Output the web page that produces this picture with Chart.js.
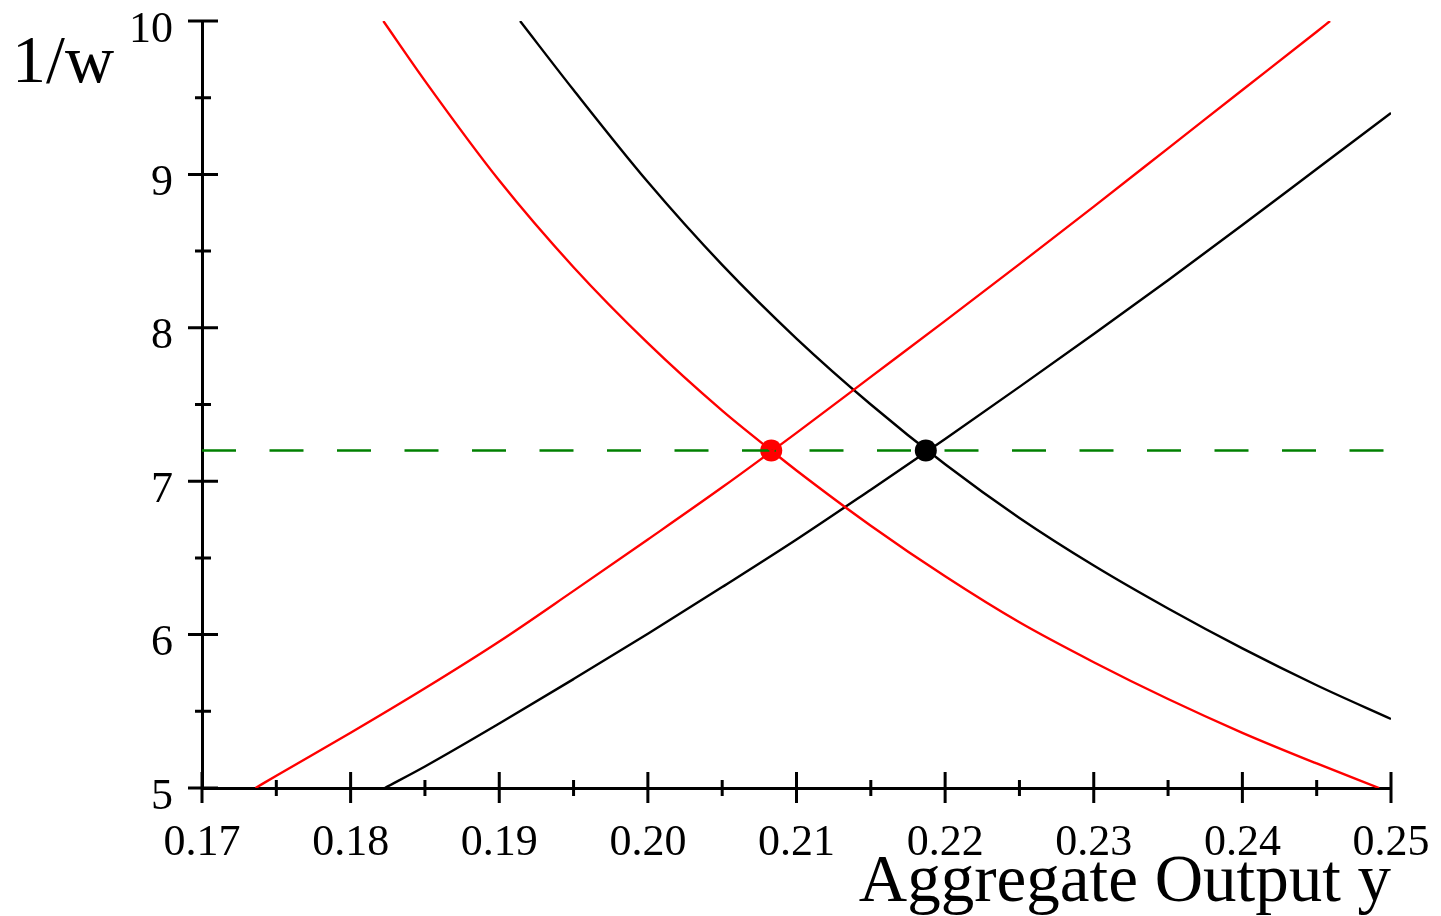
<!DOCTYPE html>
<html>
<head>
<meta charset="utf-8">
<script src="https://cdn.jsdelivr.net/npm/chart.js@4.4.1/dist/chart.umd.min.js"></script>
<style>
  html, body { margin: 0; padding: 0; background: #fff; }
  #wrap { width: 1441px; height: 916px; }
</style>
</head>
<body>
<div id="wrap"><canvas id="chart" width="1441" height="916"></canvas></div>
<script>
// axes
const xTicks = [0.17, 0.18, 0.19, 0.20, 0.21, 0.22, 0.23, 0.24, 0.25];
const xMinorTicks = [0.175, 0.185, 0.195, 0.205, 0.215, 0.225, 0.235, 0.245];
const yTicks = [5, 6, 7, 8, 9, 10];
const yMinorTicks = [5.5, 6.5, 7.5, 8.5, 9.5];
const xTitle = 'Aggregate Output y';
const yTitle = '1/w';

// red, falling curve
const redDownX = [0.1822, 0.185, 0.190, 0.195, 0.200, 0.205, 0.2083, 0.210, 0.215, 0.220, 0.225, 0.230, 0.235, 0.240, 0.245, 0.2492];
const redDownY = [10.0, 9.61, 8.96, 8.395, 7.90, 7.46, 7.2, 7.07, 6.71, 6.38, 6.08, 5.82, 5.58, 5.36, 5.16, 5.0];

// red, rising curve
const redUpX = [0.1736, 0.175, 0.180, 0.185, 0.190, 0.195, 0.200, 0.205, 0.210, 0.215, 0.220, 0.225, 0.230, 0.235, 0.240, 0.245, 0.2459];
const redUpY = [5.0, 5.08, 5.36, 5.65, 5.955, 6.285, 6.62, 6.96, 7.315, 7.68, 8.045, 8.415, 8.79, 9.17, 9.55, 9.93, 10.0];

// black, falling curve
const blackDownX = [0.1914, 0.195, 0.200, 0.205, 0.210, 0.215, 0.220, 0.225, 0.230, 0.235, 0.240, 0.245, 0.250];
const blackDownY = [10.0, 9.55, 8.95, 8.41, 7.93, 7.50, 7.11, 6.76, 6.45, 6.17, 5.91, 5.67, 5.45];

// black, rising curve
const blackUpX = [0.1823, 0.185, 0.190, 0.195, 0.200, 0.205, 0.210, 0.215, 0.220, 0.225, 0.230, 0.235, 0.240, 0.245, 0.250];
const blackUpY = [5.0, 5.14, 5.42, 5.71, 6.005, 6.31, 6.62, 6.945, 7.275, 7.615, 7.96, 8.31, 8.67, 9.035, 9.40];

// equilibrium level and points
const eqLevel = 7.2;
const eqLineX = [0.17, 0.25];
const redEqX = 0.2083;
const blackEqX = 0.2187;

const SERIF = '"Liberation Serif", "Times New Roman", serif';

function zip(xs, ys) {
  return xs.map((x, i) => ({ x, y: ys[i] }));
}

function curve(xs, ys, color) {
  return {
    data: zip(xs, ys),
    borderColor: color,
    borderWidth: 2.4,
    pointRadius: 0,
    showLine: true,
    fill: false,
    cubicInterpolationMode: 'monotone',
  };
}

// ticks cross the axis lines, so draw them by hand from the scales
const axisDecor = {
  id: 'axisDecor',
  afterDraw(chart) {
    const { ctx, chartArea, scales: { x, y } } = chart;
    const bottom = chartArea.bottom;
    const left = chartArea.left;
    ctx.save();
    ctx.strokeStyle = '#000';
    ctx.lineWidth = 3;
    ctx.beginPath();
    xTicks.forEach(v => {
      const px = x.getPixelForValue(v);
      ctx.moveTo(px, bottom - 16);
      ctx.lineTo(px, bottom + 15);
    });
    xMinorTicks.forEach(v => {
      const px = x.getPixelForValue(v);
      ctx.moveTo(px, bottom - 8);
      ctx.lineTo(px, bottom + 8);
    });
    yTicks.forEach(v => {
      const py = y.getPixelForValue(v);
      ctx.moveTo(left - 14, py);
      ctx.lineTo(left + 16, py);
    });
    yMinorTicks.forEach(v => {
      const py = y.getPixelForValue(v);
      ctx.moveTo(left - 7, py);
      ctx.lineTo(left + 9, py);
    });
    ctx.stroke();

    ctx.fillStyle = '#000';
    ctx.font = '68px ' + SERIF;
    ctx.textAlign = 'left';
    ctx.textBaseline = 'alphabetic';
    ctx.fillText(yTitle, 12, 82);
    ctx.restore();
  },
};

new Chart(document.getElementById('chart'), {
  type: 'scatter',
  data: {
    datasets: [
      curve(redDownX, redDownY, '#ff0000'),
      curve(redUpX, redUpY, '#ff0000'),
      curve(blackDownX, blackDownY, '#000000'),
      curve(blackUpX, blackUpY, '#000000'),
      {
        data: eqLineX.map(x => ({ x, y: eqLevel })),
        borderColor: '#008000',
        borderWidth: 2.6,
        borderDash: [34, 33.5],
        pointRadius: 0,
        showLine: true,
        fill: false,
      },
      {
        data: [{ x: redEqX, y: eqLevel }],
        backgroundColor: '#ff0000',
        borderWidth: 0,
        pointRadius: 11,
        showLine: false,
      },
      {
        data: [{ x: blackEqX, y: eqLevel }],
        backgroundColor: '#000000',
        borderWidth: 0,
        pointRadius: 11,
        showLine: false,
      },
    ],
  },
  options: {
    responsive: false,
    animation: false,
    devicePixelRatio: 1,
    layout: { padding: { top: 21, right: 50, bottom: 0, left: 0 } },
    plugins: {
      legend: { display: false },
      tooltip: { enabled: false },
    },
    scales: {
      x: {
        type: 'linear',
        min: 0.17,
        max: 0.25,
        afterBuildTicks: s => { s.ticks = xTicks.map(v => ({ value: v })); },
        afterFit: s => { s.height = 128; s.paddingLeft = 0; s.paddingRight = 0; },
        grid: { display: false, drawTicks: false, tickLength: 0 },
        border: { display: true, color: '#000', width: 3 },
        ticks: {
          color: '#000',
          autoSkip: false,
          maxRotation: 0,
          padding: 33,
          font: { family: SERIF, size: 44, lineHeight: 1 },
          callback: v => v.toFixed(2),
        },
        title: {
          display: true,
          text: xTitle,
          align: 'end',
          color: '#000',
          font: { family: SERIF, size: 67, lineHeight: 1 },
          padding: { top: 0, bottom: -1 },
        },
      },
      y: {
        type: 'linear',
        min: 5,
        max: 10,
        afterBuildTicks: s => { s.ticks = yTicks.map(v => ({ value: v })); },
        afterFit: s => { s.width = 202; s.paddingTop = 0; s.paddingBottom = 0; },
        grid: { display: false, drawTicks: false, tickLength: 0 },
        border: { display: true, color: '#000', width: 3 },
        ticks: {
          color: '#000',
          padding: 29,
          labelOffset: 9,
          font: { family: SERIF, size: 44, lineHeight: 1 },
          callback: v => String(v),
        },
      },
    },
  },
  plugins: [axisDecor],
});
</script>
</body>
</html>
